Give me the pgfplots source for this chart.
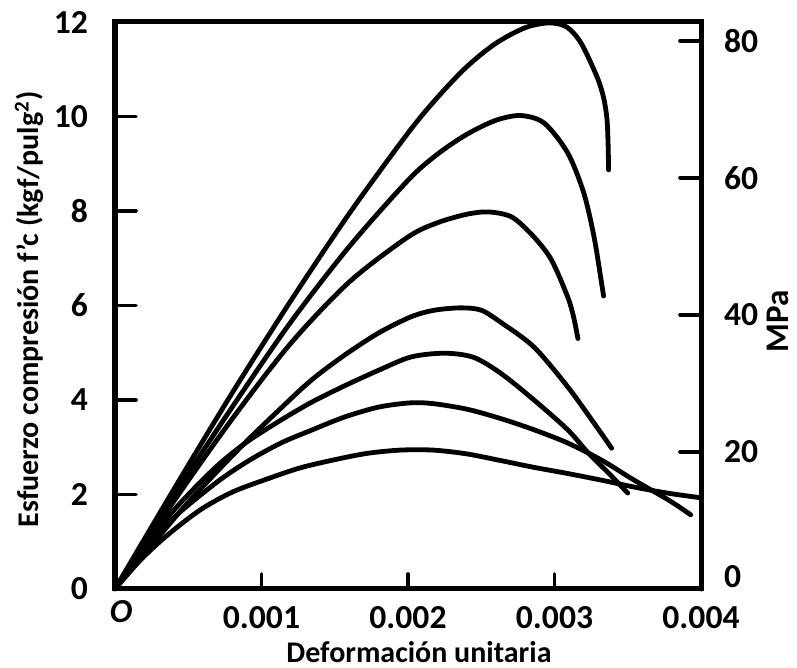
\documentclass[border=0pt]{standalone}
\usepackage{fontspec}
\setmainfont{Carlito}
\usepackage{pgfplots}
\pgfplotsset{compat=1.18}
\begin{document}
\begin{tikzpicture}
\pgfplotsset{
  base/.style={at={(0,0)}, anchor=south west, scale only axis,
    width=293pt, height=283.5pt, xmin=0, xmax=4,
    axis line style={line width=2.5pt, line cap=round},
    tick align=inside,
    tick style={line width=1.8pt, black, line cap=round},
    ticklabel style={font=\fontsize{16.8}{18}\selectfont\bfseries},
  },
  curve/.style={black, line width=2.4pt, smooth, line cap=round, line join=round},
}
\begin{axis}[base, name=main, ymin=0, ymax=12,
  xtick={1,2,3,4}, xticklabels={0.001,0.002,0.003,0.004},
  extra x ticks={0}, extra x tick labels={\textit{O}},
  extra x tick style={xticklabel style={yshift=3pt, xshift=3pt}},
  xticklabel style={yshift=-5pt},
  xtick pos=left, ytick=\empty, major tick length=7.5pt]
% 12
\addplot[curve] coordinates {(0,0) (0.4,2.1) (0.8,4.15) (1.2,6.1) (1.6,7.95) (2.0,9.65) (2.2,10.4) (2.4,11.05) (2.6,11.55) (2.8,11.88) (2.96,11.98) (3.08,11.9) (3.18,11.56) (3.29,10.84) (3.335,10.4) (3.358,9.95) (3.366,9.4) (3.369,8.87)};
% 10
\addplot[curve] coordinates {(0,0) (0.4,1.97) (0.8,3.85) (1.2,5.65) (1.6,7.25) (2.0,8.65) (2.2,9.2) (2.4,9.62) (2.6,9.92) (2.77,10.02) (2.93,9.86) (3.09,9.23) (3.2,8.38) (3.27,7.45) (3.32,6.5) (3.335,6.2)};
% 8
\addplot[curve] coordinates {(0,0) (0.4,1.85) (0.8,3.6) (1.2,5.2) (1.6,6.5) (2.0,7.45) (2.2,7.75) (2.4,7.93) (2.55,7.98) (2.71,7.87) (2.86,7.45) (2.98,6.96) (3.09,6.18) (3.13,5.76) (3.16,5.3)};
% 6
\addplot[curve] coordinates {(0,0) (0.436,1.61) (0.661,2.37) (0.886,3.09) (1.12,3.79) (1.34,4.42) (1.567,4.95) (1.8,5.42) (2.02,5.76) (2.18,5.9) (2.36,5.95) (2.5,5.9) (2.64,5.63) (2.86,5.12) (3.09,4.28) (3.27,3.51) (3.39,2.98)};
% 5
\addplot[curve] coordinates {(0,0) (0.35,1.48) (0.661,2.5) (0.886,3.08) (1.12,3.55) (1.34,3.95) (1.567,4.3) (1.8,4.63) (2.02,4.91) (2.25,4.99) (2.45,4.9) (2.64,4.55) (2.86,4.0) (3.09,3.37) (3.23,2.88) (3.37,2.45) (3.5,2.03)};
% 4
\addplot[curve] coordinates {(0,0) (0.35,1.35) (0.67,2.2) (0.894,2.68) (1.126,3.08) (1.34,3.36) (1.567,3.64) (1.8,3.85) (2.02,3.94) (2.18,3.92) (2.41,3.8) (2.64,3.6) (2.86,3.37) (3.09,3.09) (3.32,2.73) (3.54,2.31) (3.78,1.88) (3.93,1.57)};
% 3
\addplot[curve] coordinates {(0,0) (0.17,0.6) (0.35,1.12) (0.58,1.67) (0.8,2.05) (1.04,2.33) (1.26,2.56) (1.49,2.73) (1.72,2.87) (1.95,2.94) (2.17,2.94) (2.4,2.86) (2.63,2.72) (2.85,2.58) (3.08,2.45) (3.31,2.31) (3.54,2.16) (3.77,2.03) (4.0,1.93)};
\end{axis}
\begin{axis}[base, ymin=0, ymax=12, hide x axis, axis y line*=left,
  ytick={0,2,...,12}, yticklabels={0,2,4,6,8,10,12},
  yticklabel style={xshift=-10pt}, major tick length=10.5pt]
\end{axis}
\begin{axis}[base, ymin=0, ymax=82.74, hide x axis, axis y line*=right,
  ytick={20,40,60,80}, yticklabels={20,40,60,80},
  extra y ticks={0}, extra y tick labels={0},
  extra y tick style={yticklabel style={yshift=6pt}},
  yticklabel style={xshift=8pt}, major tick length=10.5pt]
\end{axis}
\node[rotate=90, anchor=base, inner sep=0pt, font=\fontsize{15}{18}\selectfont\bfseries]
  at ([xshift=-38pt, yshift=-2pt]main.west) {Esfuerzo compresión f’c (kgf/pulg\textsuperscript{2})};
\node[anchor=base, inner sep=0pt, font=\fontsize{15}{18}\selectfont\bfseries]
  at ([xshift=5.5pt, yshift=-37pt]main.south) {Deformación unitaria};
\node[rotate=90, anchor=base, inner sep=0pt, font=\fontsize{16.5}{18}\selectfont\bfseries]
  at ([xshift=43.5pt, yshift=-8pt]main.east) {MPa};
\pgfresetboundingbox
\path[use as bounding box] (-57.5pt,-39.5pt) rectangle (341pt,294.5pt);
\end{tikzpicture}
\end{document}
